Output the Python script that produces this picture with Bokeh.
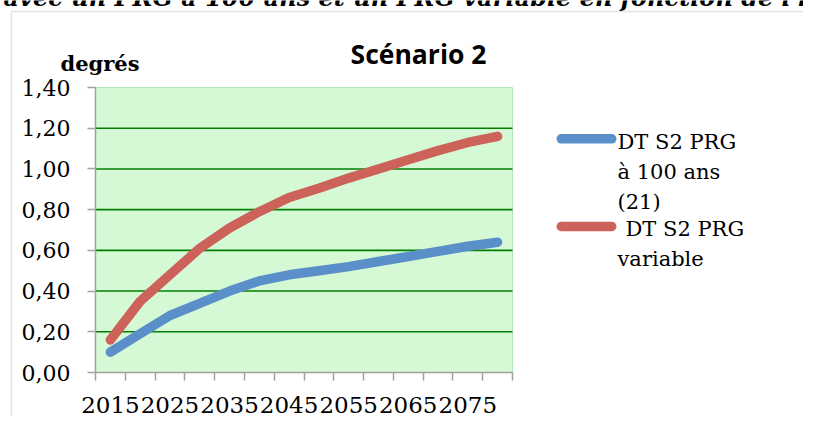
from bokeh.plotting import figure
from bokeh.models import Range1d, FixedTicker, CustomJSTickFormatter, Label, BoxAnnotation
from bokeh.embed import file_html
from bokeh.resources import INLINE

# ---- data ----
years = [2015, 2020, 2025, 2030, 2035, 2040, 2045, 2050, 2055, 2060, 2065, 2070, 2075, 2080]
dt_s2_prg100 = [0.10, 0.19, 0.28, 0.34, 0.40, 0.45, 0.48, 0.50, 0.52, 0.545, 0.57, 0.595, 0.62, 0.64]
dt_s2_prg_var = [0.16, 0.35, 0.48, 0.61, 0.71, 0.79, 0.86, 0.905, 0.955, 1.00, 1.045, 1.09, 1.13, 1.16]
y_ticks = [0.0, 0.2, 0.4, 0.6, 0.8, 1.0, 1.2, 1.4]
x_label_years = years[::2]
legend_lines_1 = ["DT S2 PRG", "à 100 ans", "(21)"]
legend_lines_2 = ["DT S2  PRG", "variable"]
page_title = "avec un PRG à 100 ans et un PRG variable en fonction de l'horizon"
chart_title = "Scénario 2"
y_unit = "degrés"

BLUE = "#5b8fc9"
RED = "#cc625a"
GRAY = "#a0a0a0"
SERIF = "DejaVu Serif"

# ---- layout (canvas pixels, from top-left) ----
W, H = 803, 416
FL, FR, FT, FB = 95, 512, 87, 372   # plot-area edges
TEXT_DY = 9                          # label baseline correction

half = (years[1] - years[0]) / 2
x0, x1 = years[0] - half, years[-1] + half
y0, y1 = y_ticks[0], y_ticks[-1]
boundaries = [y - half for y in years] + [x1]

ppx = (FR - FL) / (x1 - x0)
ppy = (FB - FT) / (y1 - y0)
x_range = Range1d(x0 - FL / ppx, x1 + (W - FR) / ppx)
y_range = Range1d(y0 - (H - FB) / ppy, y1 + FT / ppy)

p = figure(width=W, height=H, output_backend="svg", toolbar_location=None,
           x_range=x_range, y_range=y_range,
           min_border_left=0, min_border_right=0, min_border_top=0, min_border_bottom=0)
p.background_fill_color = "white"
p.border_fill_color = "white"
p.outline_line_color = None

# plot area
p.quad(left=[x0], right=[x1], bottom=[y0], top=[y1], fill_color="#d5f9d5",
       line_color="#b5e6b5", line_width=1, level="image")

# horizontal gridlines limited to the plot area
p.xgrid.visible = False
p.ygrid.visible = False
grid_vals = y_ticks[1:-1]
p.segment(x0=[x0] * len(grid_vals), x1=[x1] * len(grid_vals), y0=grid_vals, y1=grid_vals,
          line_color="#008000", line_width=1.6, level="underlay")

# y axis
p.yaxis.fixed_location = x0
p.yaxis.bounds = (y0, y1)
p.yaxis.ticker = FixedTicker(ticks=y_ticks)
p.yaxis.formatter = CustomJSTickFormatter(code="return tick.toFixed(2).replace('.', ',');")
p.yaxis.axis_line_color = GRAY
p.yaxis.axis_line_width = 1.5
p.yaxis.major_tick_line_color = GRAY
p.yaxis.major_tick_line_width = 1.5
p.yaxis.major_tick_out = 8
p.yaxis.major_tick_in = 0
p.yaxis.minor_tick_line_color = None
p.yaxis.major_label_standoff = 17
p.yaxis.major_label_text_font = SERIF
p.yaxis.major_label_text_font_size = "22px"
p.yaxis.major_label_text_color = "black"

# x axis
p.xaxis.fixed_location = y0
p.xaxis.bounds = (x0, x1)
p.xaxis.ticker = FixedTicker(ticks=x_label_years, minor_ticks=boundaries)
p.xaxis.formatter = CustomJSTickFormatter(code="return tick.toFixed(0);")
p.xaxis.axis_line_color = GRAY
p.xaxis.axis_line_width = 1.5
p.xaxis.major_tick_out = 0
p.xaxis.major_tick_in = 0
p.xaxis.major_tick_line_color = None
p.xaxis.minor_tick_line_color = GRAY
p.xaxis.minor_tick_line_width = 1.5
p.xaxis.minor_tick_out = 8
p.xaxis.minor_tick_in = 0
p.xaxis.major_label_standoff = 16
p.xaxis.major_label_text_font = SERIF
p.xaxis.major_label_text_font_size = "23px"
p.xaxis.major_label_text_color = "black"

# series
p.line(years, dt_s2_prg100, line_color=BLUE, line_width=9.5, line_cap="round", line_join="round")
p.line(years, dt_s2_prg_var, line_color=RED, line_width=9.5, line_cap="round", line_join="round")

# ---- annotations (screen units: x from left, y from bottom) ----
def add_box(l, r, t, b, **kw):
    p.add_layout(BoxAnnotation(left=l, right=r, top=H - t, bottom=H - b,
                               left_units="screen", right_units="screen",
                               top_units="screen", bottom_units="screen", **kw))

# outer chart frame
add_box(11, 3000, 11, 3000, fill_alpha=0, line_color="#a6a6a6", line_width=1.5)

# legend samples
for col, yc in [(BLUE, 138.3), (RED, 226.0)]:
    add_box(556, 616, yc - 4.75, yc + 4.75, fill_color=col, fill_alpha=1,
            line_alpha=0, border_radius=5)

def add_text(x, y, text, font=SERIF, size="21px", style="normal", align="left"):
    p.add_layout(Label(x=x, y=H - y + TEXT_DY, x_units="screen", y_units="screen", text=text,
                       text_font=font, text_font_size=size, text_font_style=style,
                       text_align=align, text_baseline="alphabetic", text_color="black"))

for i, t in enumerate(legend_lines_1):
    add_text(617, 150 + i * 30, t)
for i, t in enumerate(legend_lines_2):
    add_text(625 if i == 0 else 617, 237 + i * 30, t)

add_text(418, 62, chart_title, font="Open Sans", size="26.5px", style="bold", align="center")
add_text(99.5, 72, y_unit, size="21px", style="bold", align="center")
add_text(3, 6, page_title, size="24px", style="bold italic")

open("out.html", "w").write(file_html(p, INLINE))
